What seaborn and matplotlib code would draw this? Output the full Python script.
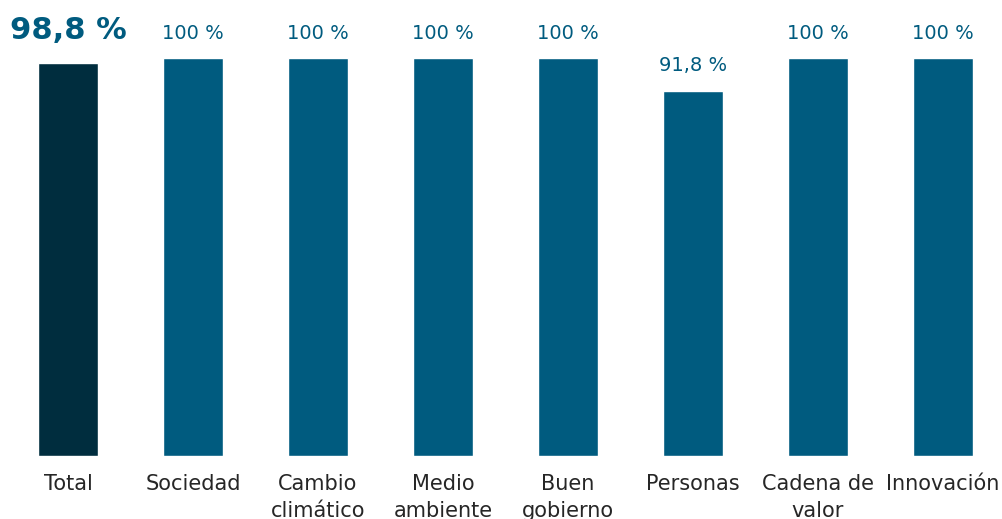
import matplotlib
matplotlib.use("Agg")
import matplotlib.pyplot as plt
import seaborn as sns
import pandas as pd

# datos
categorias = ["Total", "Sociedad", "Cambio\nclimático", "Medio\nambiente",
              "Buen\ngobierno", "Personas", "Cadena de\nvalor", "Innovación"]
valores = [98.8, 100, 100, 100, 100, 91.8, 100, 100]
etiquetas = ["98,8 %", "100 %", "100 %", "100 %", "100 %", "91,8 %", "100 %", "100 %"]

color_total = "#002d3e"
color_resto = "#005b7f"

sns.set_style("white")
plt.rcParams['font.family'] = ['DejaVu Sans']

df = pd.DataFrame({"categoria": categorias, "valor": valores})
colores = [color_total] + [color_resto] * (len(categorias) - 1)

fig = plt.figure(figsize=(10.03, 5.19), dpi=100)
ax = fig.add_axes([0, 63 / 519, 1, 456 / 519])

sns.barplot(data=df, x="categoria", y="valor", hue="categoria",
            palette=colores, width=0.48, legend=False, ax=ax, saturation=1)

ax.set_xlim(-68 / 125, (1003 - 68) / 125)
ax.set_ylim(0, 456 / 398 * 100)

for i, (v, txt) in enumerate(zip(valores, etiquetas)):
    if i == 0:
        ax.annotate(txt, (i, v), xytext=(0, 13), textcoords="offset points",
                    ha="center", va="bottom", fontsize=22, fontweight="bold",
                    color=color_resto)
    else:
        ax.annotate(txt, (i, v), xytext=(0, 11), textcoords="offset points",
                    ha="center", va="bottom", fontsize=14, color=color_resto)

ax.set_xlabel("")
ax.set_ylabel("")
ax.set_yticks([])
ax.tick_params(axis="x", length=0, pad=13, labelsize=15, labelcolor="#262626")
plt.setp(ax.get_xticklabels(), linespacing=1.45)
sns.despine(ax=ax, left=True, bottom=True)

fig.savefig("out.png", dpi=100)
